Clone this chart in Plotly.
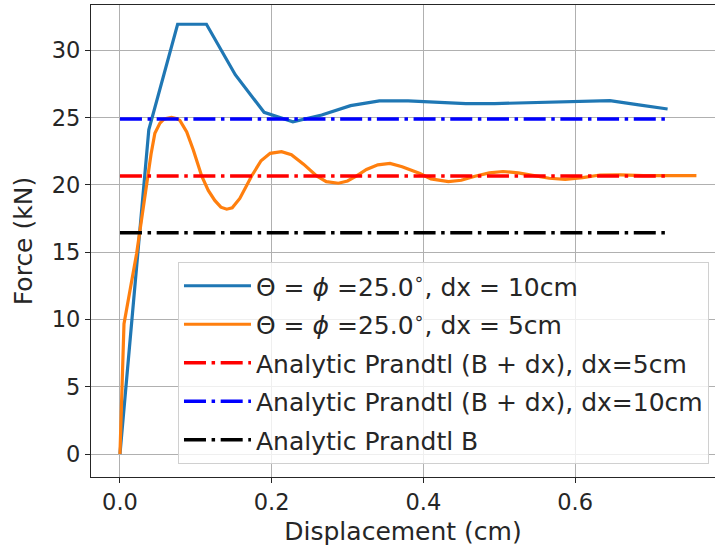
import plotly.graph_objects as go

# --- data ---
disp_10cm = [0.0, 0.038, 0.076, 0.114, 0.152, 0.190, 0.228, 0.266, 0.304, 0.342,
             0.380, 0.418, 0.456, 0.494, 0.532, 0.570, 0.608, 0.646, 0.684, 0.722]
force_10cm = [0.0, 24.1, 31.95, 31.95, 28.2, 25.4, 24.7, 25.2, 25.9, 26.25,
              26.25, 26.15, 26.05, 26.05, 26.1, 26.2, 26.25, 26.27, 25.95, 25.65]

disp_5cm = [0.0, 0.0053, 0.022, 0.0273, 0.0365, 0.041, 0.046, 0.0527, 0.058, 0.068,
            0.074, 0.079, 0.088, 0.0967, 0.1077, 0.1164, 0.125, 0.133, 0.1407, 0.148,
            0.158, 0.1736, 0.186, 0.198, 0.213, 0.226, 0.242, 0.2593, 0.272, 0.288,
            0.300, 0.312, 0.325, 0.340, 0.356, 0.372, 0.3955, 0.410, 0.433, 0.450,
            0.468, 0.487, 0.505, 0.525, 0.546, 0.566, 0.587, 0.610, 0.633, 0.660,
            0.690, 0.720, 0.760]
force_5cm = [0.0, 9.67, 14.92, 17.1, 20.67, 22.3, 23.84, 24.6, 24.9, 25.03,
             24.95, 24.8, 23.95, 22.6, 20.67, 19.6, 18.85, 18.35, 18.2, 18.3,
             19.0, 20.67, 21.8, 22.35, 22.48, 22.25, 21.55, 20.67, 20.25, 20.13,
             20.3, 20.67, 21.15, 21.5, 21.6, 21.35, 20.85, 20.45, 20.25, 20.35,
             20.65, 20.9, 21.0, 20.9, 20.7, 20.5, 20.42, 20.55, 20.74, 20.75,
             20.7, 20.7, 20.69]

analytic_x = [0.0, 0.724]
prandtl_5cm = 20.67
prandtl_10cm = 24.9
prandtl_B = 16.45

x_ticks = [0.0, 0.2, 0.4, 0.6]
x_tick_labels = ["0.0", "0.2", "0.4", "0.6"]
y_ticks = [0, 5, 10, 15, 20, 25, 30]

FONT = "DejaVu Sans"
DASHDOT = "22px,5.6px,3.5px,5.6px"
TXT = "#262626"

fig = go.Figure()
fig.add_trace(go.Scatter(x=disp_10cm, y=force_10cm, mode="lines",
                         line=dict(color="#1f77b4", width=3.2),
                         name="Θ = <i>ϕ</i> =25.0<sup>∘</sup>, dx = 10cm",
                         legendgroup="a"))
fig.add_trace(go.Scatter(x=disp_5cm, y=force_5cm, mode="lines",
                         line=dict(color="#ff7f0e", width=3.2),
                         name="Θ = <i>ϕ</i> =25.0<sup>∘</sup>, dx = 5cm",
                         legendgroup="b"))
fig.add_trace(go.Scatter(x=analytic_x, y=[prandtl_5cm] * 2, mode="lines",
                         line=dict(color="red", width=3.4, dash=DASHDOT),
                         name="Analytic Prandtl (B + dx), dx=5cm", legendgroup="c"))
fig.add_trace(go.Scatter(x=analytic_x, y=[prandtl_10cm] * 2, mode="lines",
                         line=dict(color="blue", width=3.4, dash=DASHDOT),
                         name="Analytic Prandtl (B + dx), dx=10cm", legendgroup="d"))
fig.add_trace(go.Scatter(x=analytic_x, y=[prandtl_B] * 2, mode="lines",
                         line=dict(color="black", width=3.4, dash=DASHDOT),
                         name="Analytic Prandtl B", legendgroup="e"))

fig.update_layout(
    width=715, height=549,
    margin=dict(l=91, r=0, t=5, b=72, autoexpand=False),
    paper_bgcolor="white", plot_bgcolor="white",
    font=dict(family=FONT, size=22.5, color=TXT),
    showlegend=True,
    legend=dict(x=0.1394, y=0.4555, xanchor="left", yanchor="top",
                bgcolor="rgba(255,255,255,0.8)", bordercolor="#d0d0d0",
                borderwidth=1, font=dict(family=FONT, size=25, color=TXT),
                traceorder="grouped", tracegroupgap=3, itemwidth=67),
)
fig.update_xaxes(range=[-0.0382, 0.7845], tickvals=x_ticks, ticktext=x_tick_labels,
                 showgrid=True, gridcolor="#b0b0b0", gridwidth=1.1,
                 showline=True, linecolor=TXT, linewidth=1.2, mirror=True,
                 ticks="outside", ticklen=5, tickcolor=TXT, zeroline=False,
                 automargin=False, tickfont=dict(size=22.5),
                 title=dict(text="Displacement (cm)", standoff=8,
                            font=dict(family=FONT, size=25)))
fig.update_yaxes(range=[-1.71, 33.38], tickvals=y_ticks,
                 showgrid=True, gridcolor="#b0b0b0", gridwidth=1.1,
                 showline=True, linecolor=TXT, linewidth=1.2, mirror=False,
                 ticks="outside", ticklen=5, tickcolor=TXT, zeroline=False,
                 automargin=False, tickfont=dict(size=22.5),
                 title=dict(text="Force (kN)", standoff=12,
                            font=dict(family=FONT, size=25)))

fig.write_html("out.html",
               config={"displayModeBar": False},
               post_script="document.body.style.margin='0';"
                           "document.body.style.overflow='hidden';")
